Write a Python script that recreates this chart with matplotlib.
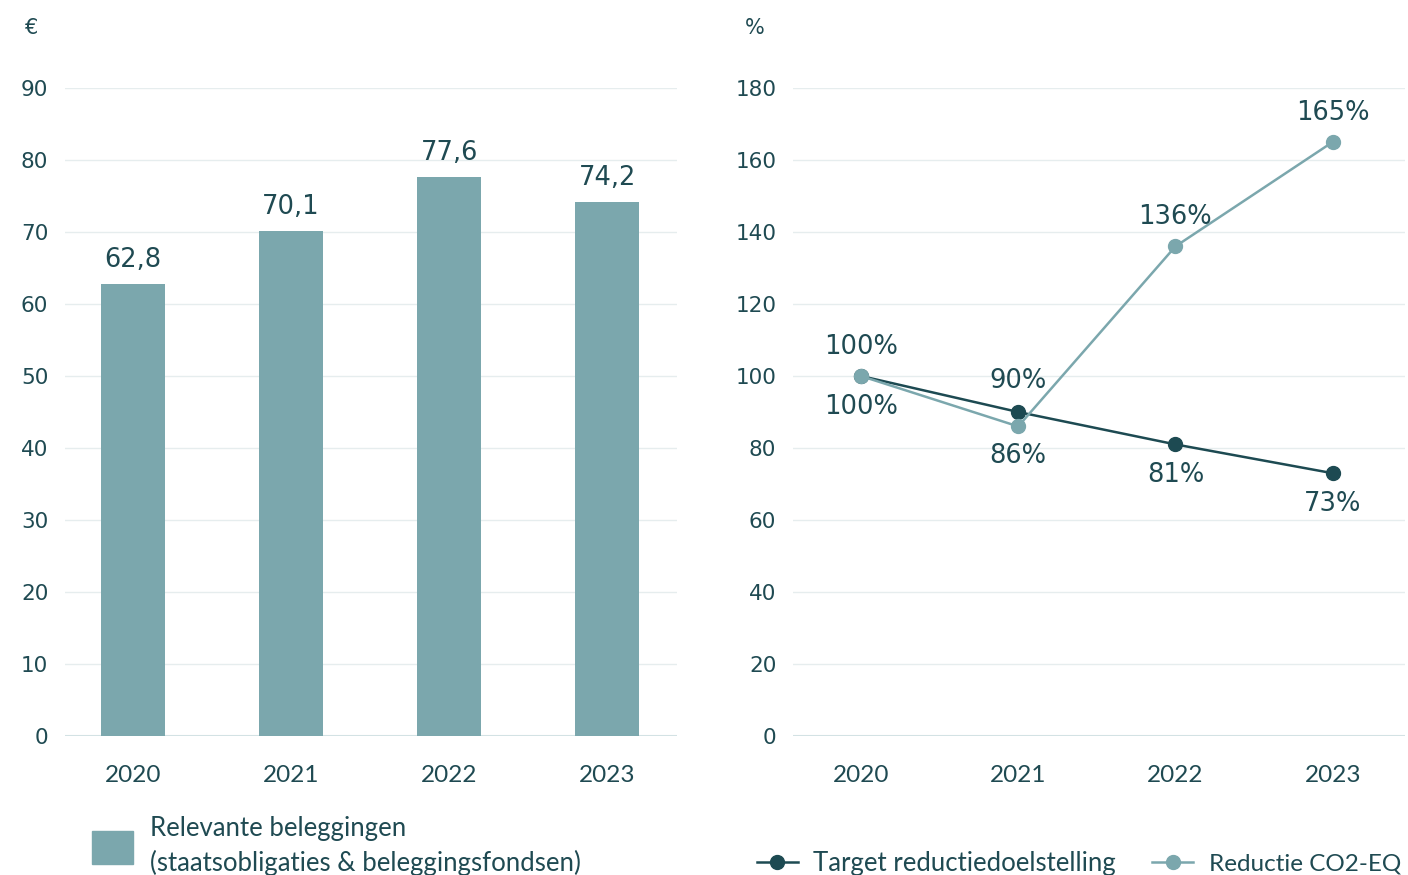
import matplotlib
matplotlib.use("Agg")
import matplotlib.pyplot as plt
from matplotlib.lines import Line2D
from matplotlib.patches import Patch

years = ["2020", "2021", "2022", "2023"]
beleggingen = [62.8, 70.1, 77.6, 74.2]
target = [100, 90, 81, 73]
reductie = [100, 86, 136, 165]
left_yticks = [0, 10, 20, 30, 40, 50, 60, 70, 80, 90]
right_yticks = [0, 20, 40, 60, 80, 100, 120, 140, 160, 180]

BAR = "#7BA7AD"
DARK = "#1D4A52"
LIGHT = "#7BA7AD"
TXT = "#1F4A52"
GRID = "#E6EDEE"
BASE = "#D3E2E4"

NUM_FONT = ["DejaVu Sans"]
CAT_FONT = ["Lato", "DejaVu Sans"]

fig = plt.figure(figsize=(14.08, 8.75), dpi=100)
W, H = 1408, 875

def axes_px(x0, x1, ytop, ybot):
    return fig.add_axes([x0 / W, 1 - ybot / H, (x1 - x0) / W, (ybot - ytop) / H])

# ---------- left: bars ----------
ax1 = axes_px(65, 677, 88, 736)
x = list(range(len(years)))
bars = ax1.bar(x, beleggingen, width=0.405, color=BAR, zorder=3)
ax1.set_ylim(0, 90)
ax1.set_xlim(-0.43, 3.44)
ax1.set_yticks(left_yticks)
ax1.set_xticks(x)
ax1.set_xticklabels(years)
ax1.bar_label(bars, labels=[f"{v:.1f}".replace(".", ",") for v in beleggingen],
              padding=8, fontsize=18.5, color=TXT, family=NUM_FONT)
ax1.text(32 / W, 1 - 28 / H, "€", transform=fig.transFigure, ha="center", va="center",
         fontsize=15, color=TXT, family=NUM_FONT)

# ---------- right: lines ----------
ax2 = axes_px(793, 1405, 88, 736)
ax2.plot(x, target, color=DARK, lw=1.8, marker="o", ms=10, zorder=4)
ax2.plot(x, reductie, color=LIGHT, lw=1.8, marker="o", ms=10, zorder=5)
ax2.set_ylim(0, 180)
ax2.set_xlim(-0.432, 3.46)
ax2.set_yticks(right_yticks)
ax2.set_xticks(x)
ax2.set_xticklabels(years)
ax2.text(755 / W, 1 - 28 / H, "%", transform=fig.transFigure, ha="center", va="center",
         fontsize=15, color=TXT, family=NUM_FONT)

t_pos = [-1, 1, -1, -1]
r_pos = [1, -1, 1, 1]
for i in x:
    ax2.annotate(f"{target[i]}%", (i, target[i]), xytext=(0, 22 * t_pos[i]),
                 textcoords="offset points", ha="center", va="center",
                 fontsize=18.5, color=TXT, family=NUM_FONT, zorder=6)
    ax2.annotate(f"{reductie[i]}%", (i, reductie[i]), xytext=(0, 21 * r_pos[i]),
                 textcoords="offset points", ha="center", va="center",
                 fontsize=18.5, color=TXT, family=NUM_FONT, zorder=6)

for ax in (ax1, ax2):
    for s in ax.spines.values():
        s.set_visible(False)
    ax.grid(axis="y", color=GRID, lw=1, zorder=0)
    ax.set_axisbelow(True)
    ax.axhline(0, color=BASE, lw=1.5, zorder=2)
    ax.tick_params(axis="both", length=0, colors=TXT)
    ax.tick_params(axis="y", pad=12)
    ax.tick_params(axis="x", pad=21)
    for lab in ax.get_yticklabels():
        lab.set_fontsize(15.5)
        lab.set_family(NUM_FONT)
    for lab in ax.get_xticklabels():
        lab.set_fontsize(17.5)
        lab.set_family(CAT_FONT)

# ---------- legends ----------
leg1 = fig.legend(handles=[Patch(color=BAR)],
                  labels=["Relevante beleggingen\n(staatsobligaties & beleggingsfondsen)"],
                  loc="upper left", bbox_to_anchor=(79 / W, 1 - 803 / H),
                  frameon=False, handlelength=1.6, handleheight=1.6, handletextpad=0.65,
                  borderpad=0, prop={"family": CAT_FONT, "size": 18.5})
for t in leg1.get_texts():
    t.set_color(TXT)
    t.set_linespacing(1.45)

h2 = [Line2D([0], [0], color=DARK, lw=1.8, marker="o", ms=10),
      Line2D([0], [0], color=LIGHT, lw=1.8, marker="o", ms=10)]
leg2 = fig.legend(handles=h2, labels=["Target reductiedoelstelling", "Reductie CO2-EQ"],
                  loc="upper left", bbox_to_anchor=(744 / W, 1 - 838 / H), ncol=2,
                  frameon=False, handlelength=1.6, handletextpad=0.6, columnspacing=1.4,
                  borderpad=0, prop={"family": CAT_FONT, "size": 18.5})
for t in leg2.get_texts():
    t.set_color(TXT)
leg2.get_texts()[1].set_fontsize(17.5)

fig.savefig("out.png", dpi=100)
